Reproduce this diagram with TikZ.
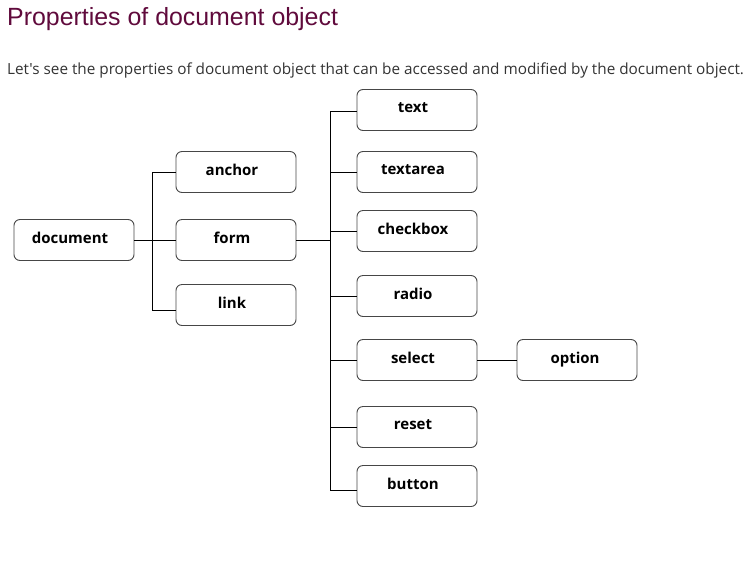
\documentclass[tikz,border=0pt]{standalone}
\usepackage{fontspec}
\setmainfont{Open Sans}
\newfontfamily\subfont{Open Sans}
\newfontfamily\titlefont{Liberation Sans}
\definecolor{titlec}{RGB}{96,10,60}
\definecolor{subc}{RGB}{51,51,51}
\definecolor{boxc}{RGB}{70,70,70}
\newcommand{\boxlbl}[1]{\raisebox{4pt}{#1}\hspace*{8pt}}
\begin{document}
\begin{tikzpicture}[x=1pt,y=-1pt,
  box/.style={draw=boxc, line width=0.9pt, rounded corners=6pt, minimum width=120pt,
    minimum height=41pt, inner sep=0pt, font=\bfseries\fontsize{15}{18}\selectfont},
  conn/.style={draw=black, line width=0.9pt}]
\useasboundingbox (0,0) rectangle (752,582);
\node[anchor=base west, inner sep=0pt, text=titlec, font=\titlefont\fontsize{24.9}{28}\selectfont] (title) at (7,25) {Properties of document object};
\node[anchor=base west, inner sep=0pt, text=subc, font=\subfont\fontsize{15.3}{18}\selectfont] (sub) at (7,74) {Let's see the properties of document object that can be accessed and modified by the document object.};
% boxes
\node[box] (doc) at (74,240) {\boxlbl{document}};
\node[box] (anchor) at (236,172) {\boxlbl{anchor}};
\node[box] (form) at (236,240) {\boxlbl{form}};
\node[box] (link) at (236,305) {\boxlbl{link}};
\node[box] (text) at (417,110) {\boxlbl{text}};
\node[box] (textarea) at (417,172) {\boxlbl{textarea}};
\node[box] (checkbox) at (417,231) {\boxlbl{checkbox}};
\node[box] (radio) at (417,296) {\boxlbl{radio}};
\node[box] (select) at (417,360) {\boxlbl{select}};
\node[box] (reset) at (417,427) {\boxlbl{reset}};
\node[box] (button) at (417,486) {\boxlbl{button}};
\node[box] (option) at (577,360) {\raisebox{4pt}{option}\hspace*{4pt}};
% left tree
\coordinate (l1) at (152,172);
\coordinate (l2) at (152,310);
\draw[conn] (l1) -- (l2);
\draw[conn] (doc.east) -- (form.west);
\draw[conn] (anchor.west) -- (l1);
\draw[conn] (l2) -- (l2 -| link.west);
% right tree
\coordinate (r1) at (330,111);
\coordinate (r2) at (330,490);
\draw[conn] (r1) -- (r2);
\draw[conn] (form.east) -- (form.east -| r1);
\draw[conn] (r1) -- (r1 -| text.west);
\draw[conn] (textarea.west) -- (textarea.west -| r1);
\draw[conn] (checkbox.west) -- (checkbox.west -| r1);
\draw[conn] (radio.west) -- (radio.west -| r1);
\draw[conn] (select.west) -- (select.west -| r1);
\draw[conn] (reset.west) -- (reset.west -| r1);
\draw[conn] (r2) -- (r2 -| button.west);
\draw[conn] (select.east) -- (option.west);
\end{tikzpicture}
\end{document}
